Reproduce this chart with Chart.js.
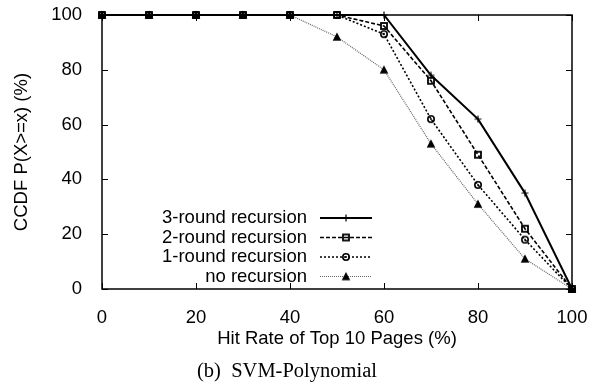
<!DOCTYPE html>
<html>
<head>
<meta charset="utf-8">
<script src="https://cdn.jsdelivr.net/npm/chart.js@4/dist/chart.umd.min.js"></script>
<style>
  html, body { margin: 0; padding: 0; background: #fff; }
  #wrap { width: 599px; height: 388px; }
</style>
</head>
<body>
<div id="wrap"><canvas id="ccdf"></canvas></div>
<script>
// hit rate values on the x axis (%)
var hitRates = [0, 10, 20, 30, 40, 50, 60, 70, 80, 90, 100];
var threeRound = [100, 100, 100, 100, 100, 100, 100, 78, 62, 35, 0];
var twoRound = [100, 100, 100, 100, 100, 100, 96, 76, 49, 22, 0];
var oneRound = [100, 100, 100, 100, 100, 100, 93, 62, 38, 18, 0];
var noRecursion = [100, 100, 100, 100, 100, 92, 80, 53, 31, 11, 0];
var seriesNames = ['3-round recursion', '2-round recursion', '1-round recursion', 'no recursion'];
var xTicks = [0, 20, 40, 60, 80, 100];
var yTicks = [0, 20, 40, 60, 80, 100];
var caption = '(b)  SVM-Polynomial';

var sans = "'Liberation Sans', Arial, Helvetica, sans-serif";
var fontPx = 18.5;

function pairs(ys) {
  return hitRates.map(function (x, i) { return { x: x, y: ys[i] }; });
}

// gnuplot-ish point markers as small canvases
function marker(kind) {
  var c = document.createElement('canvas');
  c.width = 12; c.height = 12;
  var g = c.getContext('2d');
  g.strokeStyle = '#000';
  g.fillStyle = '#000';
  if (kind === 'plus') {
    g.lineWidth = 1.2;
    g.beginPath();
    g.moveTo(2.5, 6); g.lineTo(9.5, 6);
    g.moveTo(6, 2.5); g.lineTo(6, 9.5);
    g.stroke();
  } else if (kind === 'box') {
    g.lineWidth = 1.8;
    g.strokeRect(3, 3, 6, 6);
  } else if (kind === 'ring') {
    g.lineWidth = 1.6;
    g.beginPath(); g.arc(6, 6, 3.2, 0, Math.PI * 2); g.stroke();
    g.beginPath(); g.arc(6, 6, 1, 0, Math.PI * 2); g.fill();
  } else {
    g.beginPath();
    g.moveTo(6, 1.5); g.lineTo(10.3, 9.8); g.lineTo(1.7, 9.8); g.closePath();
    g.fill();
  }
  return c;
}

var markers = [marker('plus'), marker('box'), marker('ring'), marker('tri')];

function makeSet(i, ys, color, width, dash) {
  return {
    label: seriesNames[i],
    data: pairs(ys),
    borderColor: color,
    borderWidth: width,
    borderDash: dash,
    pointStyle: markers[i],
    pointRadius: 5,
    fill: false,
    tension: 0,
    clip: false
  };
}

// box, inner ticks, legend, caption
var gnuplotLook = {
  id: 'gnuplotLook',
  beforeDatasetsDraw: function (chart) {
    var ctx = chart.ctx, a = chart.chartArea;
    var xs = chart.scales.x, ys = chart.scales.y;
    ctx.save();
    ctx.strokeStyle = '#000';
    ctx.lineWidth = 1.5;
    ctx.strokeRect(a.left, a.top, a.right - a.left, a.bottom - a.top);
    ctx.lineWidth = 1;
    ctx.beginPath();
    xTicks.forEach(function (v) {
      var px = Math.round(xs.getPixelForValue(v)) + 0.5;
      ctx.moveTo(px, a.bottom); ctx.lineTo(px, a.bottom - 6);
      ctx.moveTo(px, a.top); ctx.lineTo(px, a.top + 6);
    });
    yTicks.forEach(function (v) {
      var py = Math.round(ys.getPixelForValue(v)) + 0.5;
      ctx.moveTo(a.left, py); ctx.lineTo(a.left + 6, py);
      ctx.moveTo(a.right, py); ctx.lineTo(a.right - 6, py);
    });
    ctx.stroke();
    ctx.restore();
  },
  afterDatasetsDraw: function (chart) {
    var ctx = chart.ctx;
    ctx.save();
    ctx.font = fontPx + 'px ' + sans;
    ctx.fillStyle = '#000';
    ctx.textAlign = 'right';
    ctx.textBaseline = 'middle';
    chart.data.datasets.forEach(function (ds, i) {
      var y = 218 + i * 19.5;
      ctx.fillText(ds.label, 307, y);
      ctx.save();
      ctx.strokeStyle = ds.borderColor;
      ctx.lineWidth = ds.borderWidth;
      ctx.setLineDash(ds.borderDash);
      ctx.beginPath();
      ctx.moveTo(320, y); ctx.lineTo(372, y);
      ctx.stroke();
      ctx.restore();
      ctx.drawImage(ds.pointStyle, 346 - 6, y - 6);
    });
    ctx.font = "20.5px 'Liberation Serif', 'Times New Roman', serif";
    ctx.textAlign = 'center';
    ctx.fillText(caption, 287, 372);
    ctx.restore();
  }
};

var chartEl = document.getElementById('ccdf');
var ccdfChart = new Chart(chartEl, {
  type: 'line',
  data: {
    datasets: [
      makeSet(0, threeRound, '#000', 2, []),
      makeSet(1, twoRound, '#000', 1.6, [4, 2]),
      makeSet(2, oneRound, '#000', 1.6, [2, 2]),
      makeSet(3, noRecursion, '#666', 1.2, [1, 1])
    ]
  },
  options: {
    responsive: true,
    maintainAspectRatio: false,
    animation: false,
    layout: { padding: { top: 15, right: 27, left: 0, bottom: 0 } },
    plugins: {
      legend: { display: false },
      tooltip: { enabled: false }
    },
    scales: {
      x: {
        type: 'linear',
        min: 0,
        max: 100,
        afterFit: function (s) { s.height = 99; s.paddingLeft = 0; s.paddingRight = 0; },
        afterBuildTicks: function (s) { s.ticks = xTicks.map(function (v) { return { value: v }; }); },
        grid: { display: false },
        border: { display: false },
        ticks: { color: '#000', padding: 10, maxRotation: 0, font: { size: fontPx, family: sans } },
        title: {
          display: true,
          text: 'Hit Rate of Top 10 Pages (%)',
          color: '#000',
          padding: { top: 0, bottom: 38 },
          font: { size: fontPx, family: sans }
        }
      },
      y: {
        min: 0,
        max: 100,
        afterFit: function (s) { s.width = 102; s.paddingTop = 0; s.paddingBottom = 0; },
        afterBuildTicks: function (s) { s.ticks = yTicks.map(function (v) { return { value: v }; }); },
        grid: { display: false },
        border: { display: false },
        ticks: { color: '#000', padding: 12, font: { size: fontPx, family: sans } },
        title: {
          display: true,
          text: 'CCDF P(X>=x) (%)',
          color: '#000',
          padding: { top: 11, bottom: 0 },
          font: { size: fontPx, family: sans }
        }
      }
    }
  },
  plugins: [gnuplotLook]
});
</script>
</body>
</html>
